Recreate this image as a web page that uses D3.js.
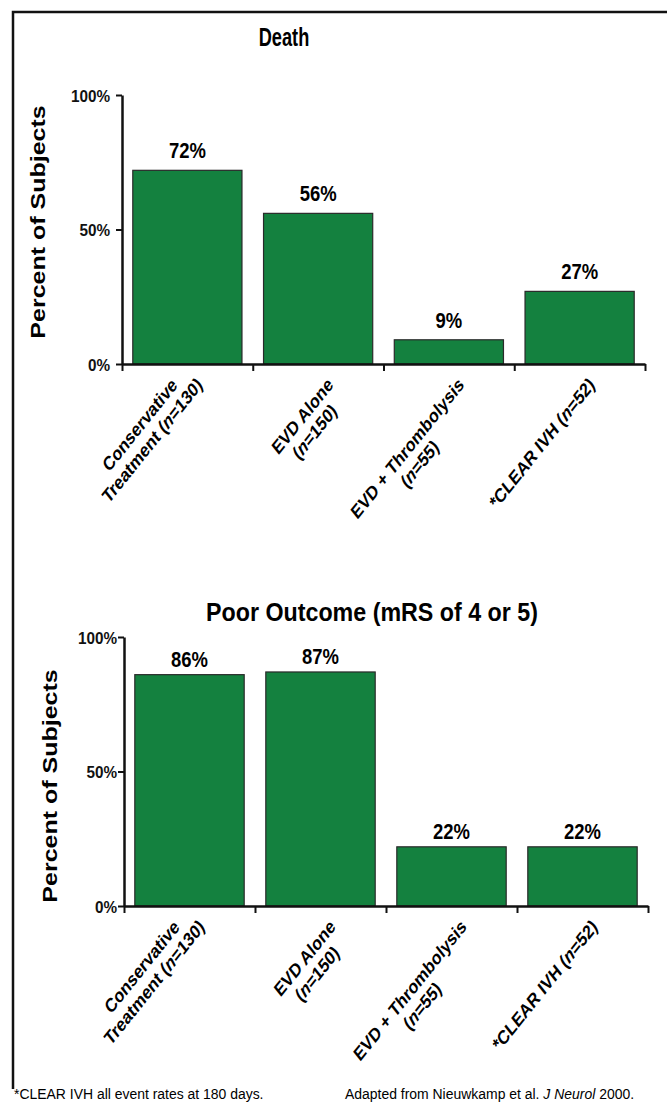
<!DOCTYPE html>
<html>
<head>
<meta charset="utf-8">
<script src="https://cdn.jsdelivr.net/npm/d3@7"></script>
<style>
  html, body { margin: 0; padding: 0; background: #fff; }
  svg { display: block; font-family: "Liberation Sans", Arial, sans-serif; }
</style>
</head>
<body>
<svg id="chart" width="667" height="1108"></svg>
<script>
// data
const categories = [
    ['Conservative', 'Treatment (n=130)'],
    ['EVD Alone', '(n=150)'],
    ['EVD + Thrombolysis', '(n=55)'],
    ['*CLEAR IVH (n=52)']
];
const deathValues = [72, 56, 9, 27];
const poorOutcomeValues = [86, 87, 22, 22];
const yTicks = [0, 50, 100];
const titles = ['Death', 'Poor Outcome (mRS of 4 or 5)'];
const yLabel = 'Percent of Subjects';
const footnote = '*CLEAR IVH all event rates at 180 days.';
const source = ['Adapted from Nieuwkamp et al. ', 'J Neurol', ' 2000.'];

const green = '#14813f';
const svg = d3.select('#chart');

// outer frame (top + left edge)
svg.append('path')
    .attr('d', 'M13,1089V12H667')
    .attr('fill', 'none')
    .attr('stroke', '#111')
    .attr('stroke-width', 2.5);

// write "n" of "(n=..." in italics
const addRuns = (textSel, str) => {
    const parts = str.split(/(\bn(?==))/);
    parts.forEach(p => {
        if (!p) return;
        textSel.append('tspan')
            .style('font-style', p === 'n' ? 'italic' : null)
            .text(p);
    });
};

const drawChart = cfg => {
    const g = svg.append('g');
    const n = cfg.values.length;

    const x = d3.scaleBand()
        .domain(d3.range(n))
        .range([cfg.left, cfg.right])
        .paddingInner(0.165)
        .paddingOuter(0.0825);
    const xb = d3.scaleLinear().domain([0, n]).range([cfg.left, cfg.right]);
    const y = d3.scaleLinear().domain([0, 100]).range([cfg.bottom, cfg.top]);

    // title
    g.append('text')
        .attr('transform', `translate(${cfg.titleX},${cfg.titleY}) scale(${cfg.titleSx},1)`)
        .attr('text-anchor', 'middle')
        .style('font-size', cfg.titleSize + 'px')
        .style('font-weight', 'bold')
        .text(cfg.title);

    // bars
    g.selectAll('rect.bar')
        .data(cfg.values)
        .enter().append('rect')
        .attr('class', 'bar')
        .attr('x', (d, i) => x(i))
        .attr('y', d => y(d))
        .attr('width', x.bandwidth())
        .attr('height', d => y(0) - y(d))
        .attr('fill', green)
        .attr('stroke', '#2a2a2a')
        .attr('stroke-width', 1.2);

    // value labels
    g.selectAll('text.val')
        .data(cfg.values)
        .enter().append('text')
        .attr('class', 'val')
        .attr('transform', (d, i) => `translate(${x(i) + x.bandwidth() / 2},${y(d) - cfg.valGap}) scale(0.84,1)`)
        .attr('text-anchor', 'middle')
        .style('font-size', '22px')
        .style('font-weight', 'bold')
        .text(d => d + '%');

    // y axis
    const yAxis = g.append('g')
        .attr('transform', `translate(${cfg.left},0)`)
        .call(d3.axisLeft(y).tickValues(yTicks).tickSize(6).tickSizeOuter(0).tickFormat(d => d + '%'));
    yAxis.select('.domain').attr('stroke', '#111').attr('stroke-width', 2.5);
    yAxis.selectAll('.tick line').attr('stroke', '#111').attr('stroke-width', 2);
    yAxis.selectAll('.tick text')
        .attr('x', -(6 + cfg.tickPad) / 0.9)
        .attr('dy', '0.36em')
        .attr('transform', 'scale(0.9,1)')
        .style('font-size', '17px')
        .style('font-weight', 'bold')
        .style('font-family', '"Liberation Sans", Arial, sans-serif')
        .attr('fill', '#111');

    // x axis: ticks on the category boundaries
    const xAxis = g.append('g')
        .attr('transform', `translate(0,${cfg.bottom})`)
        .call(d3.axisBottom(xb).tickValues(d3.range(n + 1)).tickSize(7).tickSizeOuter(0).tickFormat(''));
    xAxis.select('.domain').attr('stroke', '#111').attr('stroke-width', 2.5);
    xAxis.selectAll('.tick line').attr('stroke', '#111').attr('stroke-width', 2);

    // y axis title
    g.append('text')
        .attr('transform', `translate(${cfg.yLabelX},${cfg.yLabelY}) scale(0.8,1) rotate(-90)`)
        .attr('text-anchor', 'middle')
        .attr('dy', '0.36em')
        .style('font-size', '25px')
        .style('font-weight', 'bold')
        .text(yLabel);

    // rotated category labels, lines centred on each other
    const fs = 19.5, lh = 22, cap = fs * 0.72;
    categories.forEach((lines, i) => {
        const lg = g.append('g')
            .attr('transform', `translate(${x(i) + x.bandwidth() / 2 + 8},${cfg.bottom + 12}) scale(0.8,1) rotate(-45)`);
        const texts = lines.map(line => {
            const t = lg.append('text')
                .attr('text-anchor', 'middle')
                .style('font-size', fs + 'px')
                .style('font-weight', 'bold');
            addRuns(t, line);
            return t;
        });
        const widths = texts.map(t => t.node().getComputedTextLength());
        const maxW = d3.max(widths);
        const k = widths.indexOf(maxW);
        texts.forEach((t, j) => t.attr('x', -maxW / 2).attr('y', cap + (j - k) * lh));
    });
};

drawChart({
    title: titles[0], titleX: 284, titleY: 46, titleSize: 26, titleSx: 0.7,
    values: deathValues,
    left: 122, right: 645, top: 95, bottom: 364,
    valGap: 12, tickPad: 6,
    yLabelX: 38, yLabelY: 222
});

drawChart({
    title: titles[1], titleX: 372, titleY: 621, titleSize: 25, titleSx: 0.93,
    values: poorOutcomeValues,
    left: 124, right: 648, top: 637, bottom: 906,
    valGap: 8, tickPad: 1,
    yLabelX: 50, yLabelY: 786
});

// footnotes
svg.append('text')
    .attr('transform', 'translate(14,1099) scale(0.9,1)')
    .style('font-size', '15.5px')
    .text(footnote);

const src = svg.append('text')
    .attr('transform', 'translate(345,1099) scale(0.9,1)')
    .style('font-size', '15.5px');
source.forEach((s, i) => src.append('tspan').style('font-style', i === 1 ? 'italic' : null).text(s));
</script>
</body>
</html>
